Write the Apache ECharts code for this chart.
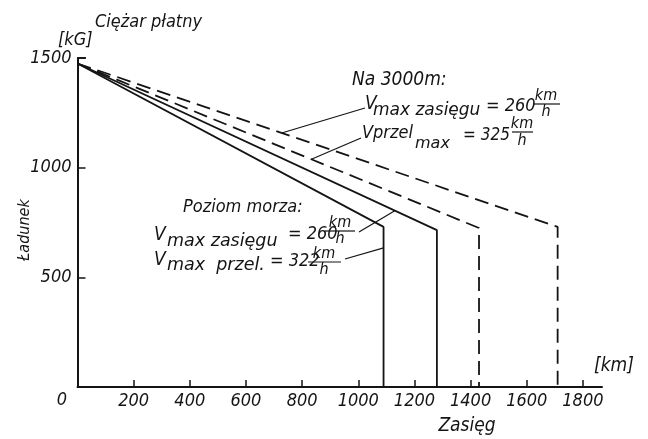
<!DOCTYPE html>
<html><head><meta charset="utf-8">
<script src="https://cdn.jsdelivr.net/npm/echarts@6/dist/echarts.min.js"></script>
<style>html,body{margin:0;padding:0;background:#fff}#c{width:648px;height:439px}</style>
</head><body><div id="c"></div>
<script>
// ---- data ----
const xTickValues = [200, 400, 600, 800, 1000, 1200, 1400, 1600, 1800];
const yTickValues = [500, 1000, 1500];
const originLabel = '0';
// sea level, V max przel. = 322 km/h
const seaPrzelKm = [0, 1090, 1090];
const seaPrzelLoad = [1475, 730, 0];
// sea level, V max zasięgu = 260 km/h
const seaZasKm = [0, 1280, 1280];
const seaZasLoad = [1475, 715, 0];
// 3000 m, V przel max = 325 km/h
const altPrzelKm = [0, 1430, 1430];
const altPrzelLoad = [1475, 725, 0];
// 3000 m, V max zasięgu = 260 km/h
const altZasKm = [0, 1710, 1710];
const altZasLoad = [1475, 730, 0];

const FF = '"Liberation Sans Narrow","DejaVu Sans Condensed","Liberation Sans",sans-serif';
const FW = '"DejaVu Sans","Liberation Sans",sans-serif';
const INK = '#141414';

function pairs(k, l) { return k.map((v, i) => [v, l[i]]); }
function loadAt(k, l, km) {
  for (let i = 0; i < k.length - 1; i++) {
    if (km >= k[i] && km <= k[i + 1] && k[i + 1] !== k[i]) {
      const t = (km - k[i]) / (k[i + 1] - k[i]);
      return l[i] + t * (l[i + 1] - l[i]);
    }
  }
  return l[l.length - 1];
}

const chart = echarts.init(document.getElementById('c'), null, {renderer: 'canvas'});
const lineSeries = (k, l, dashed) => ({
  type: 'line', data: pairs(k, l), symbol: 'none', clip: false,
  lineStyle: {color: INK, width: 1.8, type: dashed ? [14, 7] : 'solid'},
  animation: false
});
const plain = v => String(v);
chart.setOption({
  animation: false,
  backgroundColor: '#fff',
  grid: {left: 77.5, top: 58, width: 524.5, height: 329, containLabel: false, outerBoundsMode: 'none'},
  xAxis: {
    type: 'value', min: 0, max: 1868, interval: 200,
    axisLine: {show: true, onZero: false, lineStyle: {color: INK, width: 2}},
    axisTick: {show: true, inside: true, length: 7, customValues: xTickValues, lineStyle: {color: INK, width: 1.5}},
    axisLabel: {customValues: xTickValues, formatter: plain, margin: 5, fontSize: 18, fontStyle: 'italic', fontFamily: FF, color: INK},
    splitLine: {show: false}
  },
  yAxis: {
    type: 'value', min: 0, max: 1500, interval: 500,
    axisLine: {show: true, onZero: false, lineStyle: {color: INK, width: 2}},
    axisTick: {show: true, inside: true, length: 8, customValues: yTickValues, lineStyle: {color: INK, width: 1.5}},
    axisLabel: {customValues: yTickValues, formatter: plain, margin: 6, fontSize: 18, fontStyle: 'italic', fontFamily: FF, color: INK},
    splitLine: {show: false}
  },
  series: [
    lineSeries(seaPrzelKm, seaPrzelLoad, false),
    lineSeries(seaZasKm, seaZasLoad, false),
    lineSeries(altPrzelKm, altPrzelLoad, true),
    lineSeries(altZasKm, altZasLoad, true)
  ]
});

function txt(x, y, s, size, align, fam) {
  return {type: 'text', x: x, y: y, silent: true, z: 10,
    style: {text: s, fontSize: size, fontStyle: 'italic', fontFamily: fam || FF, fill: INK,
      align: align || 'left', verticalAlign: 'middle'}};
}
function seg(x1, y1, x2, y2, w) {
  return {type: 'line', silent: true, z: 10, shape: {x1, y1, x2, y2}, style: {stroke: INK, lineWidth: w || 1.2}};
}
function frac(cx, yTop, yBar, yBot, x1, x2) {
  return [txt(cx, yTop, 'km', 16, 'center'), seg(x1, yBar, x2, yBar, 1.2), txt(cx, yBot, 'h', 16, 'center')];
}
const px = (km, load) => chart.convertToPixel({gridIndex: 0}, [km, load]);

const pAltZas = px(727, loadAt(altZasKm, altZasLoad, 727));
const pAltPrzel = px(833, loadAt(altPrzelKm, altPrzelLoad, 833));
const pSeaZas = px(1130, loadAt(seaZasKm, seaZasLoad, 1130));
const pSeaPrzel = px(seaPrzelKm[1], 634);

const g = [
  txt(95, 22, 'Ciężar płatny', 18),
  txt(58, 40, '[kG]', 18),
  txt(62, 400, originLabel, 18, 'center'),
  {type: 'text', x: 25, y: 230, rotation: Math.PI / 2, silent: true,
    style: {text: 'Ładunek', fontSize: 16, fontStyle: 'italic', fontFamily: FF, fill: INK, align: 'center', verticalAlign: 'middle'}},
  txt(594, 366, '[km]', 19),
  txt(467, 426, 'Zasięg', 19, 'center'),
  // 3000 m block
  txt(352, 80, 'Na 3000m:', 19),
  txt(365, 104, 'V', 19),
  txt(373, 111, 'max zasięgu', 17, 'left', FW),
  txt(486, 106, '= 260', 18),
  ...frac(546, 96, 104, 112, 533, 560),
  txt(362, 133, 'Vprzel', 18),
  txt(415, 144, 'max', 16, 'left', FW),
  txt(463, 136, '= 325', 17),
  ...frac(522, 124, 132, 141, 512, 533),
  // sea level block
  txt(183, 207, 'Poziom morza:', 18),
  txt(154, 235, 'V', 19),
  txt(167, 241, 'max zasięgu', 17.5, 'left', FW),
  txt(288, 234, '= 260', 18),
  ...frac(340, 223, 231, 239, 325, 355),
  txt(154, 260, 'V', 19),
  txt(167, 265, 'max  przel.', 17.5, 'left', FW),
  txt(270, 261, '= 322', 18),
  ...frac(324, 254, 262, 270, 308, 341),
  // leader lines
  seg(365, 108, pAltZas[0], pAltZas[1]),
  seg(361, 138, pAltPrzel[0], pAltPrzel[1]),
  seg(359, 232, pSeaZas[0], pSeaZas[1]),
  seg(345, 259, pSeaPrzel[0], pSeaPrzel[1]),
  // 1500 tick cap
  seg(77.5, 58, 86, 58, 1.8)
];
chart.setOption({graphic: g});
</script></body></html>
